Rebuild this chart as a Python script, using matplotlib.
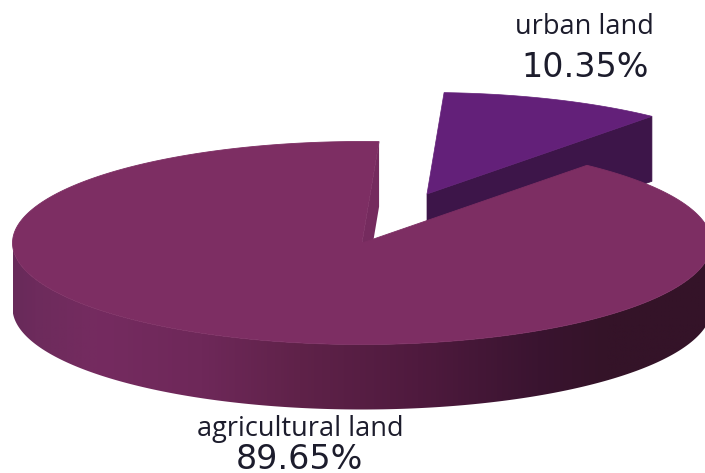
import numpy as np
import matplotlib
matplotlib.use("Agg")
import matplotlib.pyplot as plt
from matplotlib.colors import LinearSegmentedColormap
from matplotlib.patches import Polygon

# Land use shares
slice_names = ["agricultural land", "urban land"]
slice_values = [89.65, 10.35]

# Pie geometry in pixels
center_x, center_y = 362, 243
radius_x, radius_y = 349.5, 101.5
depth = 65
explode_x, explode_y = 65, -49
start_angle = 87.2

top_color = "#7d2e63"
inner_wall_color = "#752b5e"
urban_color = "#632079"
urban_wall_color = "#3d1549"
text_color = "#1c1c2c"

# Shading along the rim from left to right
rim_stops = [(0.0, "#682a5a"), (0.03, "#6d2b5c"), (0.12, "#752b60"), (0.27, "#6e2859"),
             (0.41, "#5f2249"), (0.58, "#4f1a3e"), (0.75, "#3a1430"), (0.85, "#341328"),
             (1.0, "#341328")]
rim_cmap = LinearSegmentedColormap.from_list("rim", rim_stops)


def arc(t1, t2, dx=0, dy=0):
    t = np.radians(np.linspace(t1, t2, 300))
    return np.column_stack([center_x + dx + radius_x * np.cos(t),
                            center_y + dy - radius_y * np.sin(t)])


fig = plt.figure(figsize=(7.05, 4.73), dpi=100)
ax = fig.add_axes([0, 0, 1, 1])

urban_sweep = 360 * slice_values[1] / sum(slice_values)
end_angle = start_angle - urban_sweep

# Exploded urban slice: the cut wall first, then its top
apex_u = np.array([center_x + explode_x, center_y + explode_y])
edge_u = arc(end_angle, end_angle, explode_x, explode_y)[0]
ax.add_patch(Polygon([apex_u, edge_u, edge_u + [0, depth], apex_u + [0, depth]],
                     closed=True, fc=urban_wall_color, ec=urban_wall_color, lw=0.5))
ax.add_patch(Polygon(np.vstack([[apex_u], arc(end_angle, start_angle, explode_x, explode_y)]),
                     closed=True, fc=urban_color, ec=urban_color, lw=0.5))

# Inner wall of the big slice, seen through the gap
apex = np.array([center_x, center_y])
edge = arc(start_angle, start_angle)[0]
ax.add_patch(Polygon([apex, edge, edge + [0, depth], apex + [0, depth]],
                     closed=True, fc=inner_wall_color, ec="none"))

# Outer rim with a horizontal gradient
lower = arc(180, 360)
rim_path = Polygon(np.vstack([lower, (lower + [0, depth])[::-1]]),
                   closed=True, fc="none", ec="none")
ax.add_patch(rim_path)
gradient = np.linspace(0, 1, 512).reshape(1, -1)
rim_image = ax.imshow(gradient, cmap=rim_cmap, aspect="auto",
                      extent=[center_x - radius_x, center_x + radius_x,
                              center_y + radius_y + depth, center_y - 2])
rim_image.set_clip_path(rim_path)

# Top of the big slice
ax.add_patch(Polygon(np.vstack([[apex], arc(start_angle, end_angle + 360)]),
                     closed=True, fc=top_color, ec=top_color, lw=0.6))

ax.set_xlim(0, 705)
ax.set_ylim(473, 0)
ax.axis("off")

ax.text(584, 34, slice_names[1], ha="center", va="baseline", family="Open Sans",
        fontsize=19.5, color=text_color)
ax.text(585, 77, f"{slice_values[1]:.2f}%", ha="center", va="baseline", family="DejaVu Sans",
        fontsize=24, color=text_color)
ax.text(300, 436, slice_names[0], ha="center", va="baseline", family="Open Sans",
        fontsize=19.5, color=text_color)
ax.text(299, 469, f"{slice_values[0]:.2f}%", ha="center", va="baseline", family="DejaVu Sans",
        fontsize=24, color=text_color)

fig.savefig("out.png", dpi=100)
